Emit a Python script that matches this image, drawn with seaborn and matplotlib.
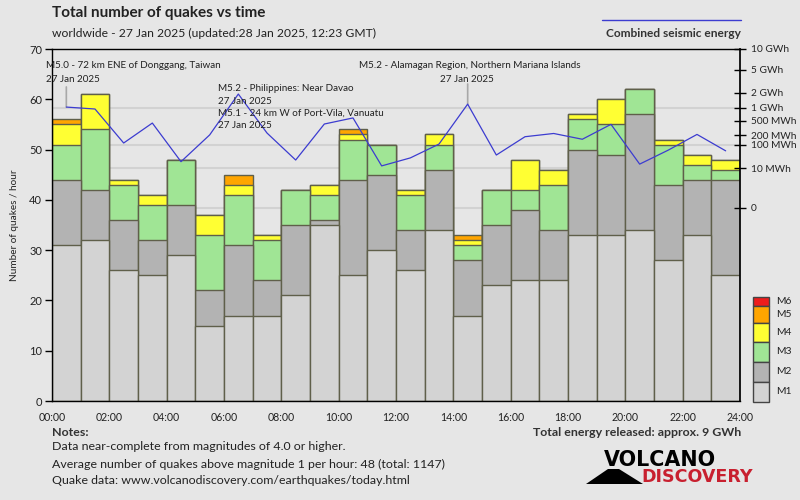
import numpy as np
import pandas as pd
import seaborn as sns
import matplotlib
matplotlib.use("Agg")
import matplotlib.pyplot as plt
from matplotlib.lines import Line2D
from matplotlib.patches import Rectangle, Polygon

# ---------------- data ----------------
hours = list(range(24))
m1 = [31, 32, 26, 25, 29, 15, 17, 17, 21, 35, 25, 30, 26, 34, 17, 23, 24, 24, 33, 33, 34, 28, 33, 25]
m2 = [13, 10, 10, 7, 10, 7, 14, 7, 14, 1, 19, 15, 8, 12, 11, 12, 14, 10, 17, 16, 23, 15, 11, 19]
m3 = [7, 12, 7, 7, 9, 11, 10, 8, 7, 5, 8, 6, 7, 5, 3, 7, 4, 9, 6, 6, 5, 8, 3, 2]
m4 = [4, 7, 1, 2, 0, 4, 2, 1, 0, 2, 1, 0, 1, 2, 1, 0, 6, 3, 1, 5, 0, 1, 2, 2]
m5 = [1, 0, 0, 0, 0, 0, 2, 0, 0, 0, 1, 0, 0, 0, 1, 0, 0, 0, 0, 0, 0, 0, 0, 0]
m6 = [0] * 24
energy_mwh = [1030, 935, 114, 435, 21, 205, 1890, 233, 25, 411, 583, 13, 31, 105,
              1190, 41, 181, 226, 151, 403, 16, 64, 212, 60]
mag_labels = ["M1", "M2", "M3", "M4", "M5", "M6"]
mag_colors = {"M1": "#d3d3d3", "M2": "#b3b3b3", "M3": "#a0e595",
              "M4": "#ffff33", "M5": "#ffa500", "M6": "#ee1c1c"}
x_tick_labels = ["%02d:00" % h for h in range(0, 25, 2)]
e_ticks = [0, 10, 100, 200, 500, 1000, 2000, 5000, 10000]
e_tick_labels = ["0", "10 MWh", "100 MWh", "200 MWh", "500 MWh", "1 GWh", "2 GWh", "5 GWh", "10 GWh"]
annotations = [
    ("M5.0 - 72 km ENE of Donggang, Taiwan", "27 Jan 2025"),
    ("M5.2 - Philippines: Near Davao", "27 Jan 2025"),
    ("M5.1 - 24 km W of Port-Vila, Vanuatu", "27 Jan 2025"),
    ("M5.2 - Alamagan Region, Northern Mariana Islands", "27 Jan 2025"),
]

series = {"M1": m1, "M2": m2, "M3": m3, "M4": m4, "M5": m5, "M6": m6}
counts = pd.DataFrame(series, index=[h + 0.5 for h in hours])
cum = counts.cumsum(axis=1)
edf = pd.DataFrame({"hour": [h + 0.5 for h in hours], "energy": energy_mwh})

# ---------------- style ----------------
BG = "#e6e6e6"
FONT = ["Lato", "DejaVu Sans"]
sns.set_theme(style="white")
plt.rcParams["font.family"] = FONT
plt.rcParams["text.color"] = "#222222"

W, H = 800, 500
fig = plt.figure(figsize=(8, 5), dpi=100, facecolor=BG)


def fx(x):
    return x / W


def fy(y):
    return 1 - y / H


L, R, T, B = 52, 740, 49, 401
ax = fig.add_axes([fx(L), fy(B), fx(R) - fx(L), fy(T) - fy(B)])
ax.set_facecolor(BG)

# stacked bars: draw cumulative totals from the top layer down
for mag in ["M5", "M4", "M3", "M2", "M1"]:
    sns.barplot(x=cum.index.values, y=cum[mag].values, native_scale=True,
                width=1.0, color=mag_colors[mag], saturation=1,
                edgecolor="#5f5f4a", linewidth=1.0, ax=ax, zorder=2)

ax.set_xlim(0, 24)
ax.set_ylim(0, 70)
ax.set_xticks(range(0, 25, 1))
ax.set_xticklabels([x_tick_labels[i // 2] if i % 2 == 0 else "" for i in range(25)])
ax.set_yticks(range(0, 71, 10))
ax.tick_params(axis="both", colors="black", labelcolor="#222222", labelsize=8,
               direction="out", length=5, width=1, pad=2)
ax.tick_params(axis="x", pad=3, labelsize=7.6)
ax.set_xlabel("")
ax.set_ylabel("")
for s in ["left", "top", "bottom"]:
    ax.spines[s].set_visible(True)
    ax.spines[s].set_color("black")
    ax.spines[s].set_linewidth(1)
ax.spines["right"].set_visible(False)

# energy axis
ax2 = ax.twinx()


def fwd(v):
    v = np.asarray(v, dtype=float)
    return np.sign(v) * np.abs(v) ** 0.2


def inv(v):
    v = np.asarray(v, dtype=float)
    return np.sign(v) * np.abs(v) ** 5


ax2.set_yscale("function", functions=(fwd, inv))
ax2.set_ylim(-26380, 10000)
ax2.set_yticks(e_ticks)
ax2.set_yticklabels(e_tick_labels)
ax2.yaxis.set_minor_locator(matplotlib.ticker.NullLocator())
ax2.tick_params(axis="y", colors="black", labelcolor="#222222", labelsize=7.3,
                direction="inout", length=8, width=1, pad=4)
for s in ["left", "top", "bottom"]:
    ax2.spines[s].set_visible(False)
ax2.spines["right"].set_visible(True)
ax2.spines["right"].set_color("black")

sns.lineplot(data=edf, x="hour", y="energy", color="#3c3cd0", linewidth=0.9,
             ax=ax2, zorder=5)
ax2.set_xlim(0, 24)
ax2.set_xlabel("")
ax2.set_ylabel("")

# light gridlines (behind bars) aligned to energy ticks
for v in [0, 10, 100, 1000]:
    disp = ax2.transData.transform((0, v))
    yl = ax.transData.inverted().transform(disp)[1]
    ax.axhline(yl, color="#d2d2d2", linewidth=1.5, zorder=0)

# annotation stems
for idx in [0, 14]:
    ax2.annotate("", xy=(hours[idx] + 0.5, energy_mwh[idx]), xytext=(0, 14.5),
                 textcoords="offset points",
                 arrowprops=dict(arrowstyle="-", color="#a8a8a8", lw=1.2,
                                 shrinkA=0, shrinkB=0))

# annotation texts
ann_fs = 7.1
fig.text(fx(46), fy(65), annotations[0][0], fontsize=ann_fs, va="center", ha="left")
fig.text(fx(46), fy(79), annotations[0][1], fontsize=ann_fs, va="center", ha="left")
fig.text(fx(218), fy(89), annotations[1][0], fontsize=ann_fs, va="center", ha="left")
fig.text(fx(218), fy(102), annotations[1][1], fontsize=ann_fs, va="center", ha="left")
fig.text(fx(218), fy(113), annotations[2][0], fontsize=ann_fs, va="center", ha="left")
fig.text(fx(218), fy(126), annotations[2][1], fontsize=ann_fs, va="center", ha="left")
fig.text(fx(581), fy(65), annotations[3][0], fontsize=ann_fs, va="center", ha="right")
fig.text(fx(467), fy(79), annotations[3][1], fontsize=ann_fs, va="center", ha="center")

# titles
fig.text(fx(52), fy(13), "Total number of quakes vs time", fontsize=11,
         fontweight="bold", va="center", ha="left")
fig.text(fx(52), fy(33), "worldwide - 27 Jan 2025 (updated:28 Jan 2025, 12:23 GMT)",
         fontsize=8.7, va="center", ha="left")
fig.add_artist(Line2D([fx(602), fx(741)], [fy(20), fy(20)], color="#3c3cd0", lw=1))
fig.text(fx(741), fy(33), "Combined seismic energy", fontsize=8.6,
         fontweight="bold", va="center", ha="right", color="#333333")
fig.text(fx(15), fy(225), "Number of quakes / hour", fontsize=7.2, rotation=90,
         va="center", ha="center")

# magnitude legend
leg = [("M6", 297, 306), ("M5", 306, 323), ("M4", 323, 342),
       ("M3", 342, 362), ("M2", 362, 382), ("M1", 382, 402)]
for lab, y0, y1 in leg:
    fig.add_artist(Rectangle((fx(753), fy(y1)), fx(16), fy(y0) - fy(y1),
                             facecolor=mag_colors[lab], edgecolor="#444444", lw=1,
                             transform=fig.transFigure))
    fig.text(fx(776), fy((y0 + y1) / 2), lab, fontsize=7.4, va="center", ha="left")

# notes
nfs = 8.9
fig.text(fx(52), fy(432), "Notes:", fontsize=nfs, fontweight="bold", va="center", ha="left",
         color="#333333")
fig.text(fx(52), fy(447), "Data near-complete from magnitudes of 4.0 or higher.",
         fontsize=nfs, va="center", ha="left")
fig.text(fx(52), fy(464), "Average number of quakes above magnitude 1 per hour: 48 (total: 1147)",
         fontsize=nfs, va="center", ha="left")
fig.text(fx(52), fy(481), "Quake data: www.volcanodiscovery.com/earthquakes/today.html",
         fontsize=nfs, va="center", ha="left")
fig.text(fx(741), fy(432), "Total energy released: approx. 9 GWh", fontsize=nfs,
         fontweight="bold", va="center", ha="right", color="#333333")

# logo
fig.text(fx(604), fy(460), "VOLCANO", fontsize=14.9, fontweight="bold",
         va="center", ha="left", color="black", family=["DejaVu Sans"])
fig.text(fx(641), fy(477.5), "DISCOVERY", fontsize=12.6, fontweight="bold",
         va="center", ha="left", color="#c8202f", family=["DejaVu Sans"])
fig.add_artist(Polygon([(fx(586), fy(484)), (fx(608), fy(469)), (fx(619), fy(469)),
                        (fx(643), fy(484))], closed=True, facecolor="black",
                       edgecolor="none", transform=fig.transFigure))

fig.savefig("out.png", dpi=100, facecolor=BG)
